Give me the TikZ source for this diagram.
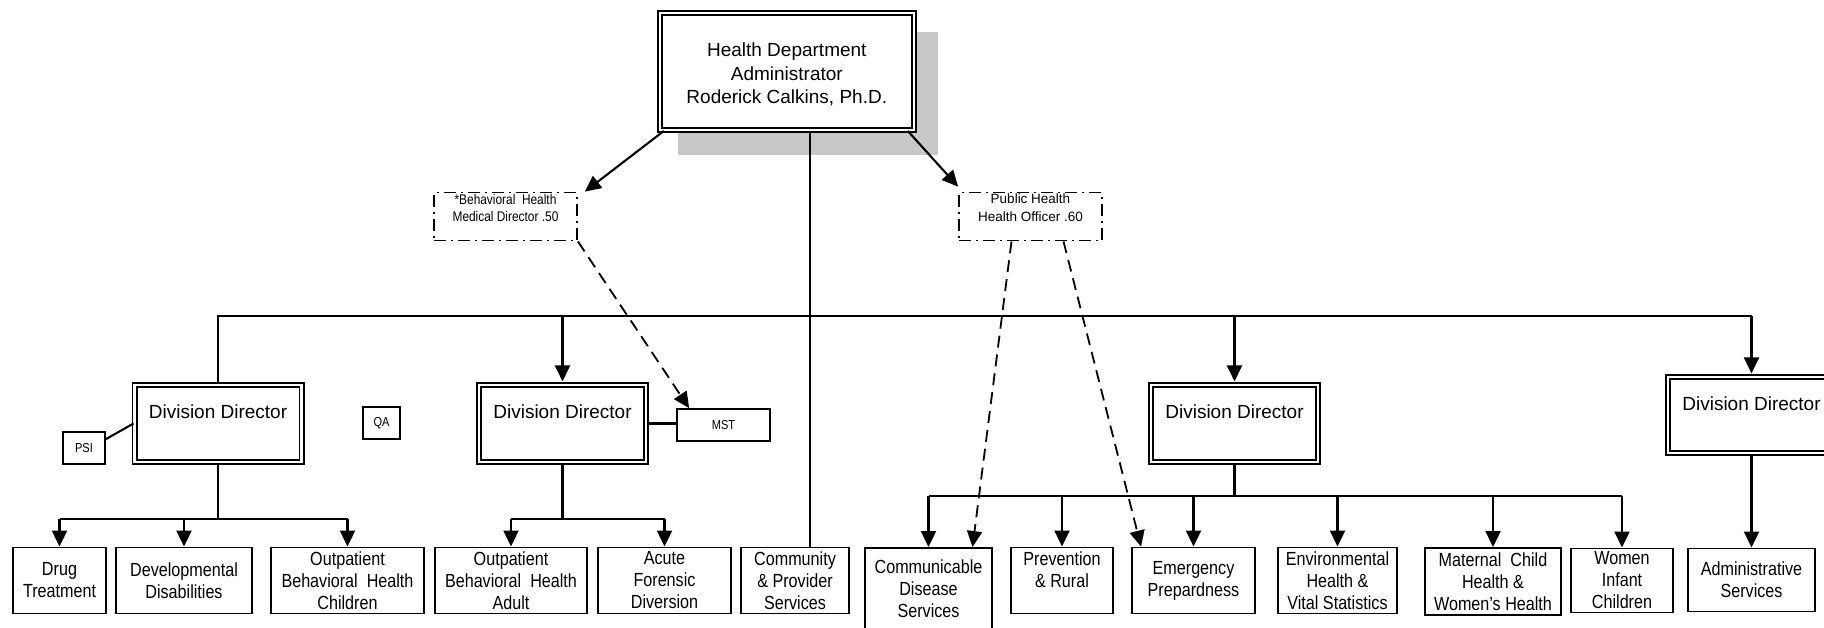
\documentclass[tikz,border=0pt]{standalone}
\usepackage{fontspec}
\setmainfont{Liberation Sans}
\newfontfamily\narrowfont[FakeStretch=0.85]{Liberation Sans}
\usetikzlibrary{arrows.meta}
\definecolor{shadowgray}{RGB}{200,200,200}
\begin{document}
\begin{tikzpicture}[x=1pt, y=-1pt,
  conn/.style={line width=2.1pt},
  arr/.style={line width=2.1pt, -{Triangle[length=16pt,width=15pt]}},
  darr/.style={line width=1.8pt, dash pattern=on 12pt off 7pt, -{Triangle[length=16pt,width=15pt]}},
  unit/.style={draw, line width=1.9pt, fill=white, inner sep=0pt, align=center, font=\narrowfont\fontsize{19}{22}\selectfont, minimum height=66pt},
  director/.style={draw, double, line width=1.9pt, double distance=2.2pt, fill=white, inner sep=0pt, align=center, font=\fontsize{19}{23}\selectfont, minimum width=167pt, minimum height=77pt},
  adviser/.style={draw, line width=1.8pt, dash pattern=on 12pt off 5pt on 2pt off 5pt, inner sep=0pt, align=center, minimum width=143pt, minimum height=48pt},
  small/.style={draw, line width=1.8pt, inner sep=0pt, font=\narrowfont\fontsize{13}{15}\selectfont, minimum height=32pt}]
\useasboundingbox (0,0) rectangle (1824,627);
\clip (0,0) rectangle (1824,627);
\fill[white] (0,0) rectangle (1824,627);
\fill[shadowgray] (678,32) rectangle (938,155);
\node[director, minimum width=254pt, minimum height=117pt, font=\fontsize{19}{23.3}\selectfont] (top) at (786.8,71.5) {\rule{0pt}{20pt}Health Department\\Administrator\\Roderick Calkins, Ph.D.};
\node[adviser, font=\narrowfont\fontsize{14}{17.5}\selectfont] (bh) at (505.5,216.5) {*Behavioral\ \ Health\\Medical Director .50\\~};
\node[adviser, font=\fontsize{13.5}{17.5}\selectfont] (ph) at (1030.5,216.5) {Public Health\\Health Officer .60\\~};
\node[director] (dd1) at (218,423.5) {Division Director\\~};
\node[director] (dd2) at (562.5,423.5) {Division Director\\~};
\node[director] (dd3) at (1234.5,423.5) {Division Director\\~};
\node[director, minimum height=76pt] (dd4) at (1751.5,415) {Division Director\\~};
\node[small, minimum width=42pt] (psi) at (84,448) {PSI};
\node[small, minimum width=37pt] (qa) at (381.5,423) {QA};
\node[small, minimum width=93pt] (mst) at (723.5,425) {MST};
\node[unit, minimum width=93pt] (drug) at (59.5,580.5) {Drug\\Treatment};
\node[unit, minimum width=136pt] (dev) at (184,580.5) {Developmental\\Disabilities};
\node[unit, minimum width=153pt] (obhc) at (347.5,580.5) {Outpatient\\Behavioral\ \ Health\\Children};
\node[unit, minimum width=152pt] (obha) at (511,580.5) {Outpatient\\Behavioral\ \ Health\\Adult};
\node[unit, minimum width=133pt] (afd) at (664.5,580.5) {Acute\\Forensic\\Diversion};
\node[unit, minimum width=108pt] (comm) at (795,580.5) {Community\\\& Provider\\Services};
\node[unit, minimum width=127pt, minimum height=82pt] (cd) at (928.5,589) {Communicable\\Disease\\Services};
\node[unit, minimum width=102pt] (pr) at (1062,580.5) {Prevention\\\& Rural\\~};
\node[unit, minimum width=123pt] (ep) at (1193.5,580.5) {Emergency\\Prepardness};
\node[unit, minimum width=119pt] (env) at (1337.5,580.5) {Environmental\\Health \&\\Vital Statistics};
\node[unit, minimum width=136pt, minimum height=67pt] (mch) at (1493,581.5) {Maternal\ \ Child\\Health \&\\Women’s Health};
\node[unit, minimum width=102pt, minimum height=64pt] (wic) at (1622,580.5) {Women\\Infant\\Children};
\node[unit, minimum width=127pt, minimum height=63pt] (adm) at (1751.5,580) {Administrative\\Services};
\coordinate (spine) at (810,0);
\coordinate (bus) at (0,316);
\coordinate (bus1) at (0,519);
\coordinate (bus3) at (0,496);
\draw[arr] ([xshift=5pt]top.south west) -- ([xshift=7pt]bh.north east);
\draw[arr] ([xshift=-7pt]top.south east) -- ([yshift=5pt]ph.north west);
\draw[conn] (top.south -| spine) -- (comm.north -| spine);
\draw[conn] (dd1.north) |- (dd4.north |- bus);
\foreach \d in {dd2,dd3,dd4} \draw[arr, shorten >=2.6pt] (\d.north |- bus) -- (\d.north);
\draw[conn] ([yshift=-8pt]psi.north east) -- (dd1.west);
\draw[conn] (dd2.east) -- (dd2.east -| mst.west);
\draw[darr] (bh.south east) -- ([xshift=13pt]mst.north west);
\draw[darr] ([xshift=-19pt]ph.south) -- ([xshift=44pt]cd.north);
\draw[darr] ([xshift=33pt]ph.south) -- ([xshift=10pt]ep.north west);
\draw[conn] (dd1.south) -- (dd1.south |- bus1) (drug.north |- bus1) -- (obhc.north |- bus1);
\foreach \u in {drug,dev,obhc} \draw[arr] (\u.north |- bus1) -- (\u.north);
\draw[conn] (dd2.south) -- (dd2.south |- bus1) (obha.north |- bus1) -- (afd.north |- bus1);
\foreach \u in {obha,afd} \draw[arr] (\u.north |- bus1) -- (\u.north);
\draw[line width=3pt] (dd3.south) -- (dd3.south |- bus3);
\draw[conn] (cd.north |- bus3) -- (wic.north |- bus3);
\foreach \u in {cd,pr,ep,env,mch,wic} \draw[arr] (\u.north |- bus3) -- (\u.north);
\draw[arr] (dd4.south) -- (adm.north);
\end{tikzpicture}
\end{document}
